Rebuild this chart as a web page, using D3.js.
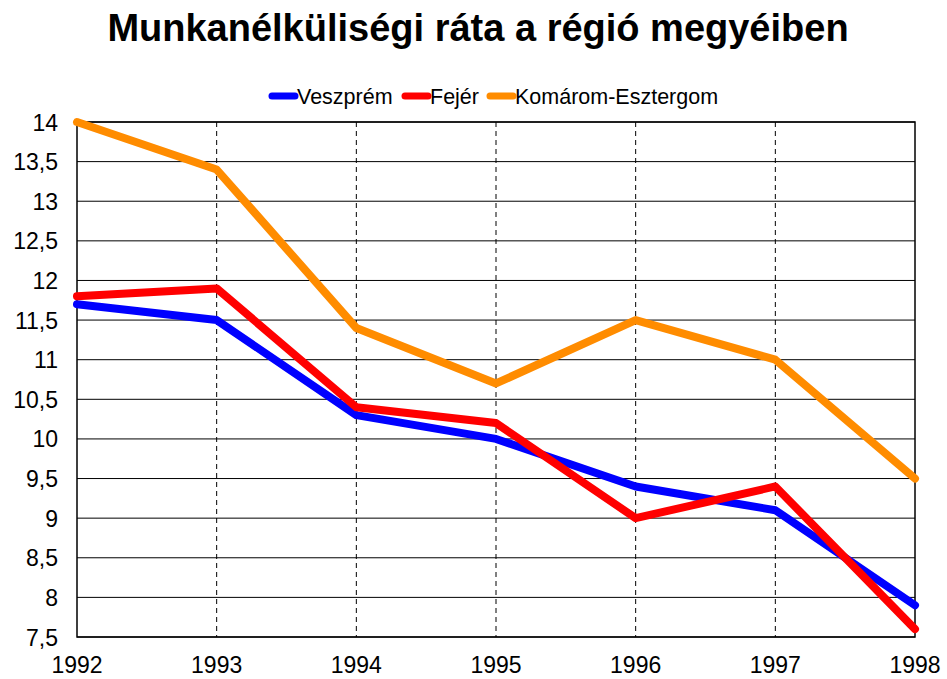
<!DOCTYPE html>
<html>
<head>
<meta charset="utf-8">
<script src="https://cdn.jsdelivr.net/npm/d3@7"></script>
<style>
body{margin:0;background:#fff;}
svg{font-family:"Liberation Sans",Arial,sans-serif;}
</style>
</head>
<body>
<div id="chart"></div>
<script>
var years = [1992,1993,1994,1995,1996,1997,1998];
var veszprem = [11.7,11.5,10.3,10.0,9.4,9.1,7.9];
var fejer = [11.8,11.9,10.4,10.2,9.0,9.4,7.6];
var komarom = [14.0,13.4,11.4,10.7,11.5,11.0,9.5];
var seriesNames = ["Veszprém","Fejér","Komárom-Esztergom"];
var colors = ["#0000ff","#ff0000","#ff8c00"];
var yTicks = d3.range(7.5,14.01,0.5);

(function(){
	var W = 947, H = 679;
	var pLeft = 77, pRight = 915, pTop = 122, pBottom = 637;

	var svg = d3.select("#chart").append("svg")
		.attr("width", W)
		.attr("height", H);

	var x = d3.scalePoint().domain(years).range([pLeft,pRight]);
	var y = d3.scaleLinear().domain([7.5,14]).range([pBottom,pTop]);

	// cím
	svg.append("text")
		.attr("x", 478).attr("y", 41)
		.attr("text-anchor","middle")
		.style("font-size","38px").style("font-weight","bold")
		.text("Munkanélküliségi ráta a régió megyéiben");

	// vízszintes rács
	svg.append("g").selectAll("line").data(yTicks).enter().append("line")
		.attr("x1", pLeft).attr("x2", pRight)
		.attr("y1", function(d){ return y(d); })
		.attr("y2", function(d){ return y(d); })
		.attr("stroke","#000").attr("stroke-width",1);

	// függőleges szaggatott rács
	svg.append("g").selectAll("line").data(years.slice(1,-1)).enter().append("line")
		.attr("x1", function(d){ return x(d); })
		.attr("x2", function(d){ return x(d); })
		.attr("y1", pTop).attr("y2", pBottom)
		.attr("stroke","#000").attr("stroke-width",1)
		.attr("stroke-dasharray","5,4");

	// keret
	svg.append("rect")
		.attr("x", pLeft).attr("y", pTop)
		.attr("width", pRight-pLeft).attr("height", pBottom-pTop)
		.attr("fill","none").attr("stroke","#000").attr("stroke-width",1.5);

	// y tengely feliratok
	svg.append("g").selectAll("text").data(yTicks).enter().append("text")
		.attr("x", 58)
		.attr("y", function(d){ return y(d)+8.5; })
		.attr("text-anchor","end")
		.style("font-size","23px")
		.text(function(d){ return String(d).replace(".",","); });

	// x tengely feliratok
	svg.append("g").selectAll("text").data(years).enter().append("text")
		.attr("x", function(d){ return x(d); })
		.attr("y", 673)
		.attr("text-anchor","middle")
		.style("font-size","23px")
		.text(function(d){ return d; });

	// vonalak
	var allData = [veszprem, fejer, komarom];
	var line = d3.line()
		.x(function(d,i){ return x(years[i]); })
		.y(function(d){ return y(d); });

	svg.append("g").selectAll("path").data(allData).enter().append("path")
		.attr("d", line)
		.attr("fill","none")
		.attr("stroke", function(d,i){ return colors[i]; })
		.attr("stroke-width",8)
		.attr("stroke-linejoin","round")
		.attr("stroke-linecap","round");

	// jelmagyarázat
	var legendX = [272, 405, 490];
	var lg = svg.append("g").selectAll("g").data(seriesNames).enter().append("g")
		.attr("transform", function(d,i){ return "translate("+legendX[i]+",96)"; });
	lg.append("line")
		.attr("x1",0).attr("x2",23).attr("y1",0).attr("y2",0)
		.attr("stroke", function(d,i){ return colors[i]; })
		.attr("stroke-width",7).attr("stroke-linecap","round");
	lg.append("text")
		.attr("x",25).attr("y",8)
		.style("font-size","21.5px")
		.text(function(d){ return d; });
})();
</script>
</body>
</html>
